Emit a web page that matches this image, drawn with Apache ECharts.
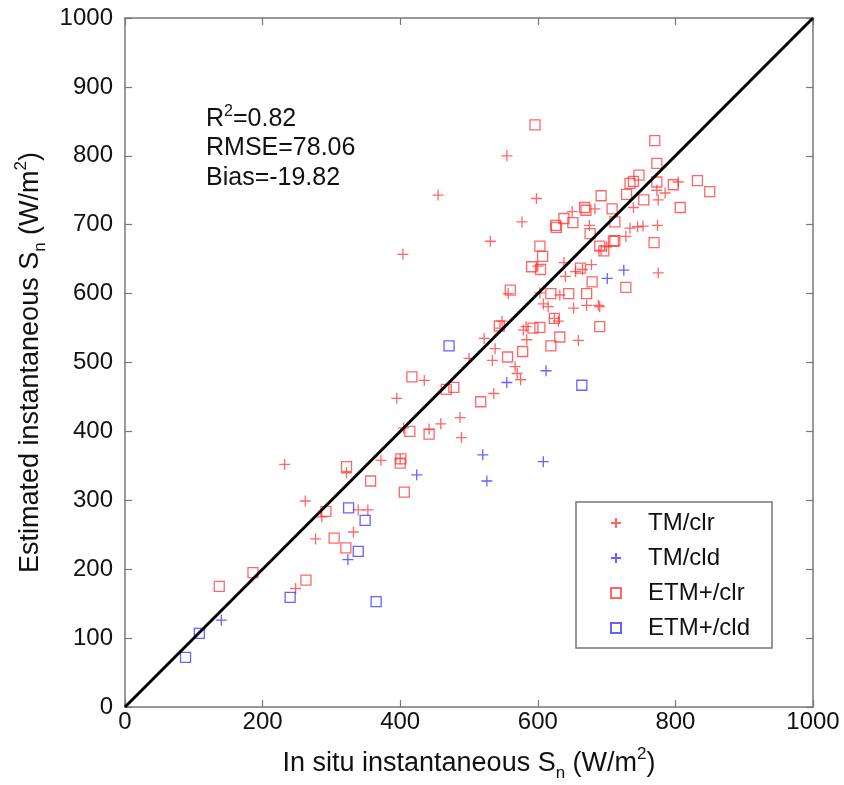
<!DOCTYPE html>
<html>
<head>
<meta charset="utf-8">
<script src="https://cdn.jsdelivr.net/npm/echarts@6/dist/echarts.min.js"></script>
<style>html,body{margin:0;padding:0;background:#fff;}#c{width:844px;height:785px;}</style>
</head>
<body>
<div id="c"></div>
<script>
// ---- data (x = in situ, y = estimated) ----
var tmClr = [[555,800],[455,743],[598,738],[577,704],[531,676],[404,657],
[232,352],[262,299],[277,244],[286,276],[248,172],[322,340],[332,254],[339,286],[353,286],[372,358],[395,448],[400,360],
[405,405],[435,474],[442,403],[459,411],[487,420],[489,391],[500,506],[522,535],[534,503],[538,520],[536,455],[545,550],[548,560],[557,600],[567,494],[570,484],[575,475],[579,547],[584,533],[583,552],
[600,640],[603,601],[608,585],[615,581],[624,564],[630,560],[632,598],[638,645],[640,625],[650,719],[652,579],[655,632],[659,532],[665,635],[671,583],[675,699],[678,642],[683,723],[688,583],[690,581],[692,663],[700,668],[728,683],[734,695],[739,725],[745,697],[753,698],[774,699],[773,750],[775,630],[775,736],[785,746],[804,762]];
var tmCld = [[140,126],[324,214],[424,337],[520,366],[526,328],[555,471],[608,356],[612,488],[701,622],[725,634]];
var etmClr = [[137,175],[186,195],[263,184],[292,284],[304,245],[321,231],[322,349],[357,328],[400,354],[401,360],[406,312],[414,400],[417,479],[442,396],[467,461],[478,464],[517,443],[544,553],[556,508],[560,605],[578,516],[591,639],[593,550],[596,845],[603,551],[603,669],[604,635],[607,654],[619,524],[619,600],[624,564],[626,699],[627,696],[632,537],[638,709],[645,600],[651,703],[662,637],[668,725],[670,721],[671,600],[676,687],[679,617],[690,552],[690,669],[692,742],[696,662],[708,723],[710,676],[712,677],[712,704],[728,609],[729,744],[734,760],[739,763],[747,772],[754,736],[769,674],[770,822],[773,789],[773,762],[797,758],[807,725],[832,764],[850,748]];
var etmCld = [[88,72],[108,107],[240,159],[325,289],[339,226],[349,271],[365,153],[471,524],[664,467]];
var oneToOne = [[0,0],[1000,1000]];
var seriesNames = ['TM/clr','TM/cld','ETM+/clr','ETM+/cld'];
var statsLines = ['0.82','RMSE=78.06','Bias=-19.82'];

var RED = 'rgba(255,45,45,0.9)';
var BLUE = 'rgba(40,40,255,0.9)';
var PLUS = 'path://M0,5L10,5M5,0L5,10';

var chart = echarts.init(document.getElementById('c'));
var font = 'Liberation Sans, Arial, Helvetica, sans-serif';
var titleRich = {
  a: {fontSize: 27, lineHeight: 36, fontFamily: font, color: '#111'},
  sup: {fontSize: 17, lineHeight: 17, verticalAlign: 'top', fontFamily: font, color: '#111'},
  sub: {fontSize: 17, lineHeight: 17, verticalAlign: 'bottom', fontFamily: font, color: '#111'}
};
var axisCommon = {
  min: 0, max: 1000,
  axisLine: {show: true, onZero: false, lineStyle: {color: '#777', width: 1.5}},
  axisTick: {show: true, inside: true, length: 7, lineStyle: {color: '#777', width: 1.2}},
  splitLine: {show: false}
};
function fmt(v) { return String(v); }
function scatterSeries(name, data, symbol, color, size) {
  return {
    name: name, type: 'scatter', data: data, symbol: symbol, symbolSize: size,
    itemStyle: {color: 'transparent', borderColor: color, borderWidth: 1.3},
    emphasis: {disabled: true}, z: 3
  };
}
chart.setOption({
  animation: false,
  backgroundColor: '#fff',
  grid: {left: 125, right: 31, top: 18, bottom: 78, containLabel: false, outerBoundsMode: 'none'},
  xAxis: [
    Object.assign({}, axisCommon, {
      type: 'value', position: 'bottom', interval: 200,
      axisLabel: {fontSize: 24, color: '#111', fontFamily: font, margin: 3, formatter: fmt},
      name: '{a|In situ instantaneous S}{sub|n}{a| (W/m}{sup|2}{a|)}',
      nameLocation: 'middle', nameGap: 39,
      nameTextStyle: {rich: titleRich}
    }),
    Object.assign({}, axisCommon, {
      type: 'value', position: 'top', interval: 200, axisLabel: {show: false}
    })
  ],
  yAxis: [
    Object.assign({}, axisCommon, {
      type: 'value', position: 'left', interval: 100,
      axisLabel: {fontSize: 24, color: '#111', fontFamily: font, margin: 12, formatter: fmt},
      name: '{a|Estimated instantaneous S}{sub|n}{a| (W/m}{sup|2}{a|)}',
      nameLocation: 'middle', nameGap: 62, nameRotate: 90,
      nameTextStyle: {rich: titleRich}
    }),
    Object.assign({}, axisCommon, {
      type: 'value', position: 'right', interval: 100, axisLabel: {show: false}
    })
  ],
  legend: {
    show: true, orient: 'vertical', left: 576, top: 502,
    data: seriesNames,
    backgroundColor: '#fff', borderColor: '#777', borderWidth: 1.5,
    padding: [9, 22, 8, 34],
    itemWidth: 10, itemHeight: 10, itemGap: 11,
    textStyle: {fontSize: 24, color: '#111', fontFamily: font, padding: [0, 0, 0, 22]}
  },
  graphic: [{
    type: 'text', left: 206, top: 104, z: 10,
    style: {
      text: '{a|R}{sup|2}{a|=' + statsLines[0] + '}\n{a|' + statsLines[1] + '}\n{a|' + statsLines[2] + '}',
      rich: {
        a: {fontSize: 25, lineHeight: 29.5, fontFamily: font, fill: '#111'},
        sup: {fontSize: 16, lineHeight: 16, verticalAlign: 'top', fontFamily: font, fill: '#111'}
      }
    }
  }],
  series: [
    scatterSeries(seriesNames[0], tmClr, PLUS, RED, 11),
    scatterSeries(seriesNames[1], tmCld, PLUS, BLUE, 11),
    scatterSeries(seriesNames[2], etmClr, 'rect', RED, 10),
    scatterSeries(seriesNames[3], etmCld, 'rect', BLUE, 10),
    {
      type: 'line', data: oneToOne, symbol: 'none', silent: true, z: 5,
      lineStyle: {color: '#000', width: 3}
    }
  ]
});
</script>
</body>
</html>
